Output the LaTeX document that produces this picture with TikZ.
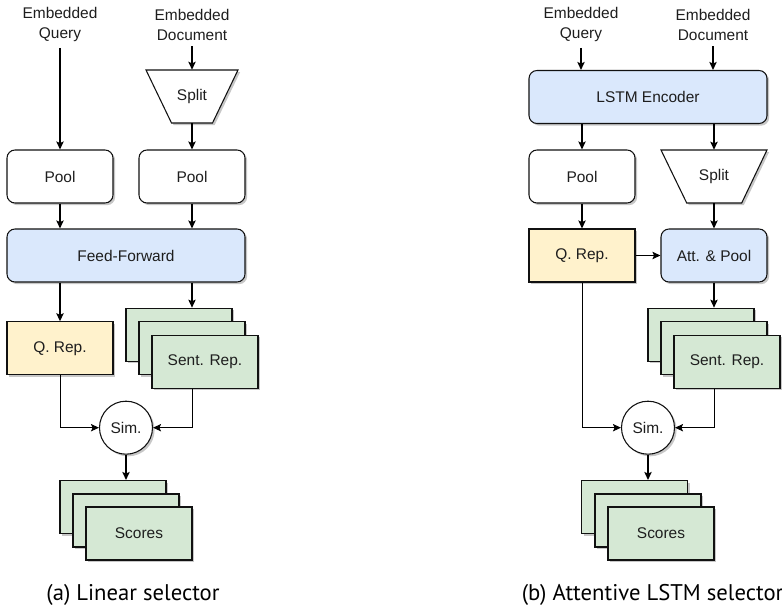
\documentclass[tikz,border=0pt]{standalone}
\usepackage{fontspec}
\setmainfont{Liberation Sans}
\newfontfamily\capfont{PT Sans}
\usetikzlibrary{arrows.meta,shadows,positioning}
\definecolor{bluef}{HTML}{DAE8FC}
\definecolor{yelf}{HTML}{FFF2CC}
\definecolor{grnf}{HTML}{D5E8D4}
\definecolor{strk}{HTML}{111111}
\definecolor{txt}{HTML}{1E1E1E}
\tikzset{
  shad/.style={drop shadow={shadow xshift=1.6pt,shadow yshift=-1.6pt,opacity=0.22,fill=black}},
  lbl/.style={font=\fontsize{11.6}{15}\selectfont,align=center,inner sep=0pt,text=txt},
  box/.style={draw=strk,line width=0.8pt,minimum width=79.5pt,minimum height=39.75pt,inner sep=0pt,font=\fontsize{11.6}{13}\selectfont,text=txt,shad},
  rbox/.style={box,rounded corners=6pt},
  wbox/.style={rbox,minimum width=178.5pt,fill=bluef},
  qbox/.style={box,fill=yelf},
  gbox/.style={box,fill=grnf},
  simc/.style={circle,draw=strk,line width=0.8pt,fill=white,minimum size=39.75pt,inner sep=0pt,font=\fontsize{11.6}{13}\selectfont,text=txt,shad},
  ghost/.style={inner sep=0pt,minimum height=39.75pt,font=\fontsize{11.6}{13}\selectfont,text=txt},
  arr/.style={line width=1.1pt,-{Stealth[length=6pt,width=5.5pt,inset=1.2pt]}},
  tarr/.style={line width=0.7pt,-{Stealth[length=6pt,width=5.5pt,inset=1.2pt]}},
  captxt/.style={font=\capfont\fontsize{17}{19}\selectfont,inner sep=0pt,text=black},
}
\begin{document}
\begin{tikzpicture}[x=0.75pt,y=-0.75pt]
\useasboundingbox (0,0) rectangle (782,610);
\clip (0,0) rectangle (782,610);
% ================= left panel =================
\node[lbl] (qtL) at (60,25) {Embedded\\Query};
\node[lbl] (dtL) at (192,25) {Embedded\\Document};
\node[ghost,minimum width=69pt] (spL) at (192,96.5) {};
\fill[black,opacity=0.22] ([shift={(2.1,2.1)}]146,70) -- ([shift={(2.1,2.1)}]238,70) -- ([shift={(2.1,2.1)}]212.5,123) -- ([shift={(2.1,2.1)}]171.5,123) -- cycle;
\draw[strk,line width=0.8pt,fill=white] (146,70) -- (238,70) -- (212.5,123) -- (171.5,123) -- cycle;
\node[ghost] at (192,96.5) {Split};
\node[rbox,fill=white] (poolL1) at (60,176.5) {Pool};
\node[rbox,fill=white] (poolL2) at (192,176.5) {Pool};
\node[wbox] (ffL) at (126,255.5) {Feed-Forward};
\node[qbox] (qrL) at (60,348.3) {Q. Rep.};
\node[gbox] (srLa) at (179,334.7) {};
\node[gbox] (srLb) at (192,348.3) {};
\node[gbox] (srLc) at (205,361.7) {Sent. Rep.};
\node[simc] (simL) at (126,427.7) {Sim.};
\node[gbox] (scLa) at (113,507) {};
\node[gbox] (scLb) at (126,520.5) {};
\node[gbox] (scLc) at (139,533.5) {Scores};
\node[captxt] (capL) at (133,595) {(a) Linear selector};
\draw[arr] ([yshift=-4pt]qtL.south) -- (poolL1.north);
\draw[arr] ([yshift=-4pt]dtL.south) -- (spL.north);
\draw[arr] (spL.south) -- (poolL2.north);
\draw[arr] (poolL1.south) -- (poolL1.south |- ffL.north);
\draw[arr] (poolL2.south) -- (poolL2.south |- ffL.north);
\draw[arr] (ffL.south -| qrL.north) -- (qrL.north);
\draw[arr] (ffL.south -| srLb.north) -- (srLb.north |- srLa.north);
\draw[tarr] (qrL.south) |- (simL.west);
\draw[tarr] (srLb.center |- srLc.south) |- (simL.east);
\draw[arr] (simL.south) -- (simL.south |- scLa.north);
% ================= right panel =================
\node[lbl] (qtR) at (581,25) {Embedded\\Query};
\node[lbl] (dtR) at (713,25) {Embedded\\Document};
\node[wbox] (lstm) at (648,97) {LSTM Encoder};
\node[rbox,fill=white] (poolR) at (582,176.5) {Pool};
\node[ghost,minimum width=79.5pt] (spR) at (714,176.5) {};
\fill[black,opacity=0.22] ([shift={(2.1,2.1)}]661,150) -- ([shift={(2.1,2.1)}]767,150) -- ([shift={(2.1,2.1)}]741.7,203) -- ([shift={(2.1,2.1)}]686.7,203) -- cycle;
\draw[strk,line width=0.8pt,fill=white] (661,150) -- (767,150) -- (741.7,203) -- (686.7,203) -- cycle;
\node[ghost] at (714,176.5) {Split};
\node[qbox] (qrR) at (582,255.5) {Q. Rep.};
\node[rbox,fill=bluef] (att) at (714,255.5) {Att. \& Pool};
\node[gbox] (srRa) at (701,334.7) {};
\node[gbox] (srRb) at (714,348.3) {};
\node[gbox] (srRc) at (727,361.7) {Sent. Rep.};
\node[simc] (simR) at (648,427.7) {Sim.};
\node[gbox] (scRa) at (634.5,507) {};
\node[gbox] (scRb) at (648,520.5) {};
\node[gbox] (scRc) at (661,533.5) {Scores};
\node[captxt,anchor=west] (capR) at (521.5,595) {(b) Attentive LSTM selector};
\draw[arr] ([yshift=-4pt]qtR.south) -- (qtR.south |- lstm.north);
\draw[arr] ([yshift=-4pt]dtR.south) -- (dtR.south |- lstm.north);
\draw[arr] (lstm.south -| poolR.north) -- (poolR.north);
\draw[arr] (lstm.south -| spR.north) -- (spR.north);
\draw[arr] (poolR.south) -- (qrR.north);
\draw[arr] (spR.south) -- (att.north);
\draw[arr] (qrR.east) -- (att.west);
\draw[arr] (att.south) -- (att.south |- srRa.north);
\draw[tarr] (qrR.south) |- (simR.west);
\draw[tarr] (srRb.center |- srRc.south) |- (simR.east);
\draw[arr] (simR.south) -- (simR.south |- scRa.north);
\end{tikzpicture}
\end{document}
